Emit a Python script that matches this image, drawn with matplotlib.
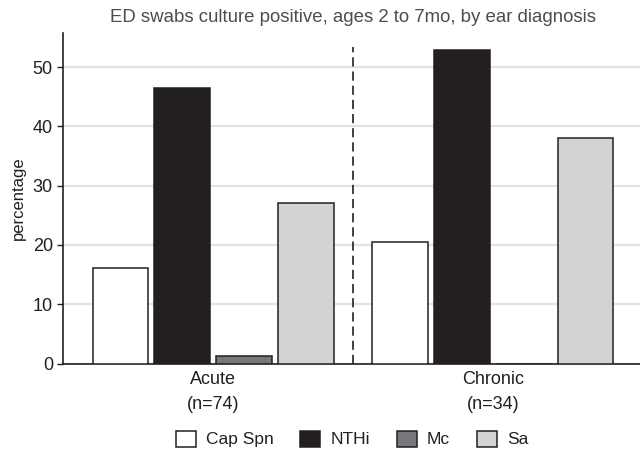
import matplotlib.pyplot as plt
import numpy as np
from matplotlib.patches import Patch

plt.rcParams['font.family'] = ['Liberation Sans', 'DejaVu Sans']

groups = ['Acute\n(n=74)', 'Chronic\n(n=34)']
organisms = ['Cap Spn', 'NTHi', 'Mc', 'Sa']
capSpn = [16.2, 20.5]
nthi = [46.5, 52.9]
mc = [1.2, 0.0]
sa = [27.0, 38.1]
colours = ['#ffffff', '#231f20', '#77787b', '#d1d3d4']

fig = plt.figure(figsize=(6.4, 4.5), dpi=100)
ax = fig.add_axes([63.3 / 640, 86.4 / 450, 579.3 / 640, 330.6 / 450])

x = np.arange(len(groups))
step = 0.221
width = 0.198
series = [capSpn, nthi, mc, sa]
for i, vals in enumerate(series):
    ax.bar(x + (i - 1.5) * step, vals, width, color=colours[i],
           edgecolor='#231f20', linewidth=1.1, zorder=3)

# dashed divider between groups
ax.vlines(0.5, 0, 53.4, colors='#231f20', linestyles=(0, (5.5, 3)), linewidth=1.2, zorder=2)

ax.set_xlim(-0.535, 1.535)
ax.set_ylim(0, 55.75)
ax.set_yticks([0, 10, 20, 30, 40, 50])
ax.yaxis.grid(True, color='#e3e3e3', linewidth=1.6, zorder=0)
ax.set_axisbelow(True)

for s in ['top', 'right']:
    ax.spines[s].set_visible(False)
for s in ['left', 'bottom']:
    ax.spines[s].set_color('#231f20')
    ax.spines[s].set_linewidth(1.2)

ax.set_xticks(x)
ax.set_xticklabels(groups, fontsize=13, color='#231f20')
for lbl in ax.get_xticklabels():
    lbl.set_linespacing(1.62)
ax.tick_params(axis='x', length=0, pad=5)
ax.tick_params(axis='y', labelsize=13, labelcolor='#231f20', color='#231f20',
               length=4, width=1, direction='out')
ax.set_ylabel('percentage', fontsize=12, color='#231f20', labelpad=5)

fig.text(353 / 640, 1 - 18 / 450, 'ED swabs culture positive, ages 2 to 7mo, by ear diagnosis',
         ha='center', va='center', fontsize=13.4, color='#4d4d4d')

handles = [Patch(facecolor=colours[i], edgecolor='#231f20', linewidth=1.1) for i in range(4)]
fig.legend(handles, organisms, loc='center', bbox_to_anchor=(352 / 640, 1 - 439 / 450),
           ncol=4, frameon=False, fontsize=12.5, handlelength=1.15, handleheight=1.04,
           handletextpad=0.58, columnspacing=1.55, labelcolor='#231f20')

fig.savefig('out.png', dpi=100)
